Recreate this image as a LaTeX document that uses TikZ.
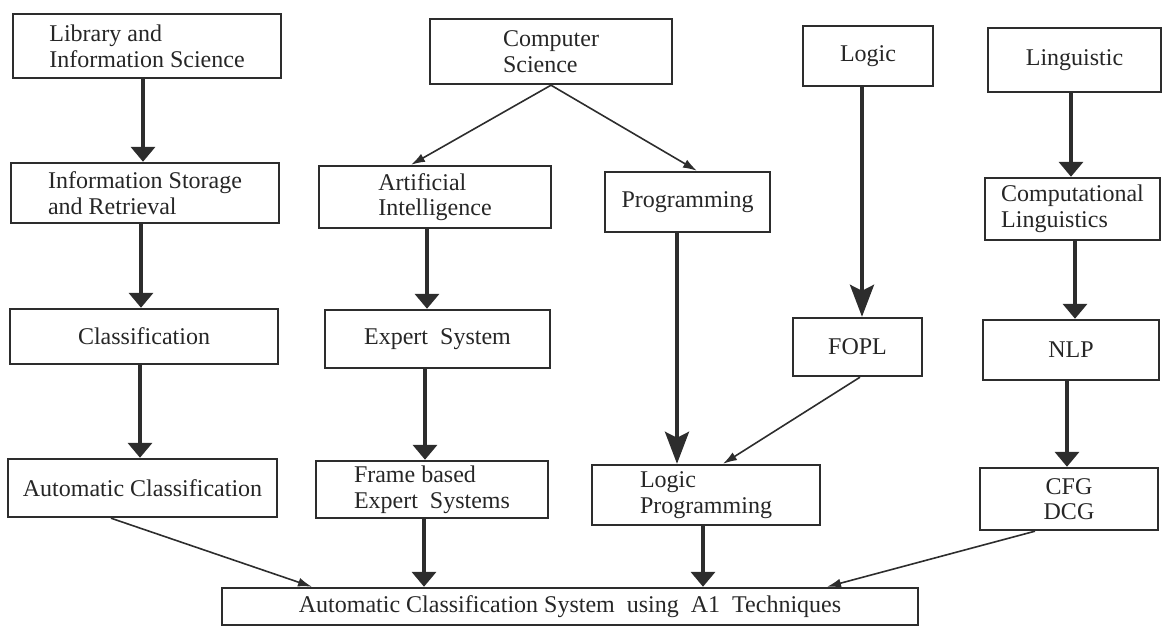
\documentclass[tikz,border=0pt]{standalone}
\usepackage{fontspec}
\setmainfont{Liberation Serif}
\usepackage{tikz}
\usetikzlibrary{positioning, arrows.meta, calc}
\definecolor{inkgray}{RGB}{45, 45, 45}

\begin{document}
\begin{tikzpicture}[x=0.5pt, y=-0.5pt, font=\fontsize{12}{12.8}\selectfont,
    box/.style 2 args={draw=inkgray, line width=1.2pt, align=left, inner sep=0pt,
      text=black!85, minimum width=#1*0.5pt, minimum height=#2*0.5pt},
    flow/.style={draw=inkgray, line width=1.8pt, -{Triangle[width=12pt, length=7.5pt]}},
    longflow/.style={flow, -{Stealth[width=12pt, length=16pt, inset=3pt]}},
    link/.style={draw=inkgray, line width=0.8pt, -{Latex[width=4.5pt, length=7pt]}}]
  \useasboundingbox (0,0) rectangle (1164,631);
  % library column
  \node[box={268}{64}] (lib) at (147,46) {Library and\\Information Science};
  \node[box={268}{60}] (info) at (145,193) {Information Storage\\and Retrieval};
  \node[box={268}{55}] (cls) at (144,336.5) {Classification};
  \node[box={269}{58}] (autocls) at (142.5,488) {Automatic Classification};
  % computer science column
  \node[box={242}{65}] (cs) at (551,51.5) {Computer\\Science};
  \node[box={232}{62}] (ai) at (435,197) {Artificial\\Intelligence};
  \node[box={225}{58}] (es) at (437.5,339) {Expert\ \ System};
  \node[box={232}{57}] (frame) at (432,489.5) {Frame based\\Expert\ \ Systems};
  \node[box={165}{60}] (prog) at (687.5,202) {Programming};
  \node[box={228}{60}] (lp) at (706,495) {Logic\\Programming};
  % logic column
  \node[box={130}{60}] (logic) at (868,56) {Logic};
  \node[box={129}{58}] (fopl) at (857.5,347) {FOPL};
  % linguistic column
  \node[box={173}{64}] (ling) at (1074.5,60) {Linguistic};
  \node[box={175}{62}] (cling) at (1072.5,209) {Computational\\Linguistics};
  \node[box={176}{60}] (nlp) at (1071,350) {NLP};
  \node[box={178}{62}, align=center] (cfg) at (1069,499) {CFG\\DCG};
  % target system
  \node[box={696}{37}] (acs) at (570,606.5) {Automatic Classification System\ \ using\ \ A1\ \ Techniques};
  % thick arrows
  \foreach \a/\da/\b/\db in {lib/-4/info/-2, info/-4/cls/-3, cls/-4/autocls/-2.5,
      ai/-8/es/-10.5, es/-12.5/frame/-7, frame/-8/acs/-146, lp/-3/acs/133,
      ling/-3.5/cling/-1.5, cling/2.5/nlp/4, nlp/-4/cfg/-2}
    \draw[flow] ([shift={(\da,0)}]\a.south) -- ([shift={(\db,0)}]\b.north);
  \draw[longflow] ([shift={(-10.5,0)}]prog.south) -- ([shift={(-29,0)}]lp.north);
  \draw[longflow] ([shift={(-6,0)}]logic.south) -- ([shift={(4.5,0)}]fopl.north);
  % thin arrows
  \draw[link] (cs.south) -- ([shift={(-24,0)}]ai.north);
  \draw[link] (cs.south) -- ([shift={(9.5,0)}]prog.north);
  \draw[link] ([shift={(2.5,0)}]fopl.south) -- ([shift={(17,0)}]lp.north);
  \draw[link] ([shift={(-34,0)}]cfg.south) -- ([shift={(257,0)}]acs.north);
  \draw[link] ([shift={(-31.5,0)}]autocls.south) -- ([shift={(-258,0)}]acs.north);
\end{tikzpicture}
\end{document}
